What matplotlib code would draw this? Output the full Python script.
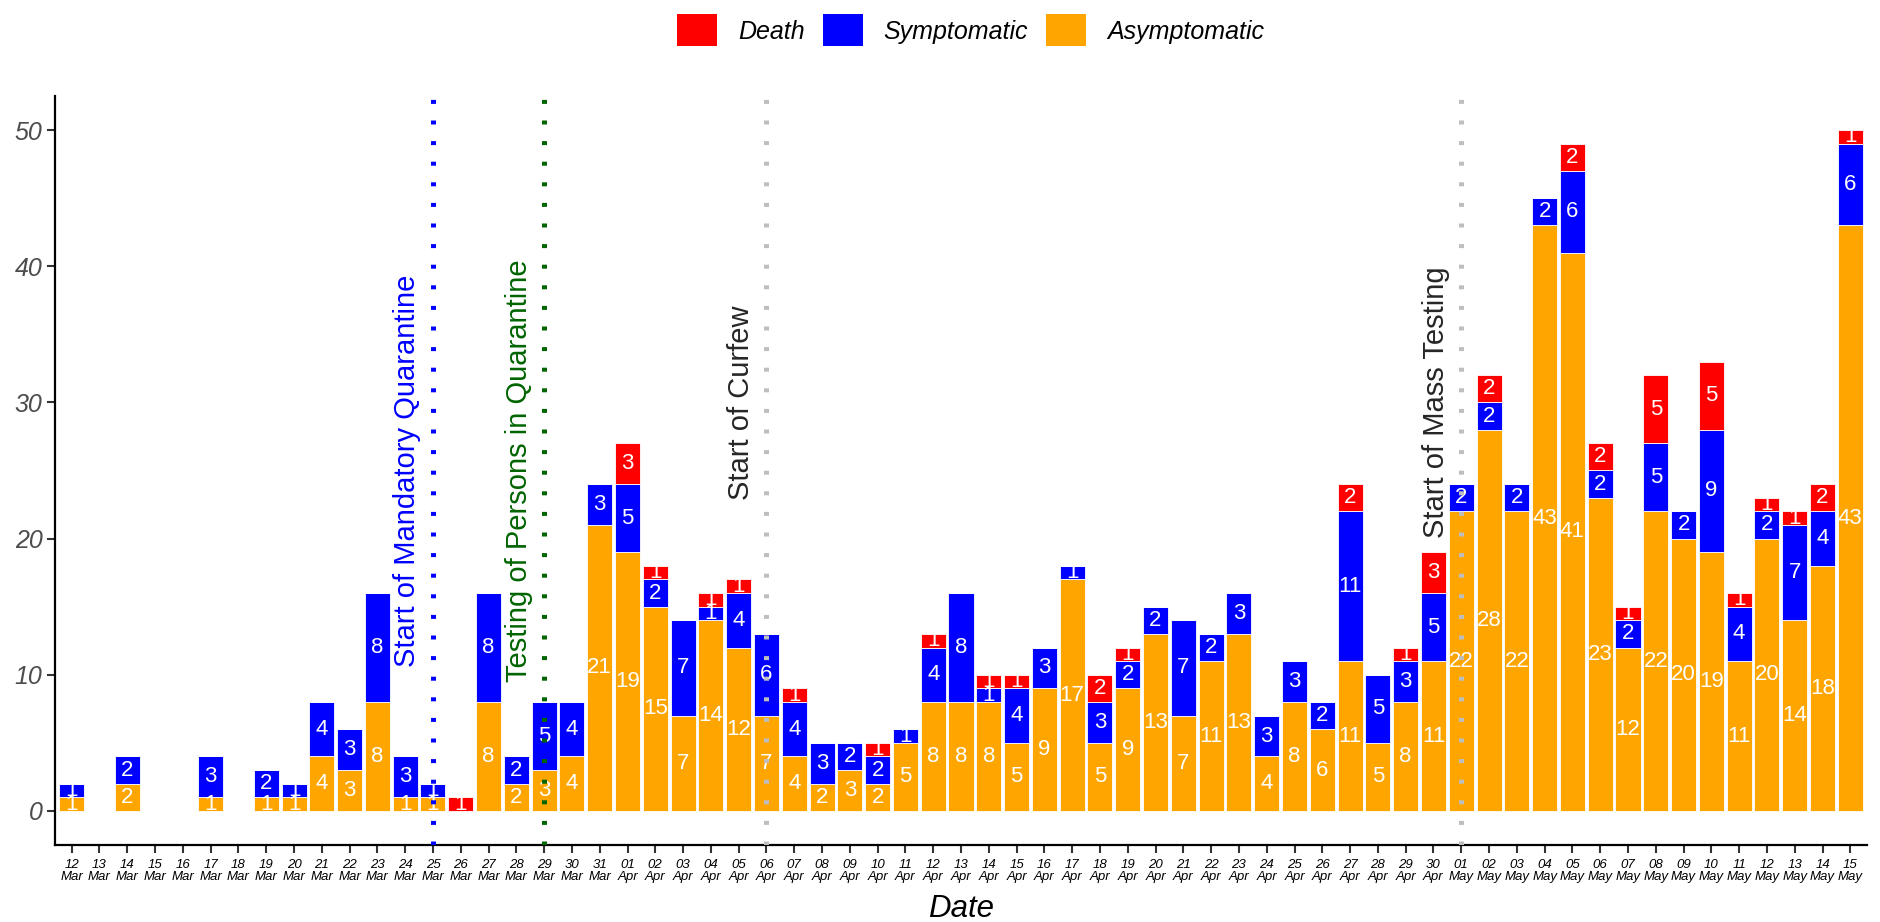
import numpy as np
import pandas as pd
import matplotlib
matplotlib.use("Agg")
import matplotlib.pyplot as plt
from matplotlib.patches import Patch

plt.rcParams['font.family'] = 'Liberation Sans'

################### DATA

dates = pd.date_range("2020-03-12", "2020-05-15", freq="D")

asymptomatic = [1, 0, 2, 0, 0, 1, 0, 1, 1, 4, 3, 8, 1, 1, 0, 8, 2, 3, 4, 21,   # 12-31 Mar
                19, 15, 7, 14, 12, 7, 4, 2, 3, 2, 5, 8, 8, 8, 5, 9, 17, 5, 9, 13,  # 01-20 Apr
                7, 11, 13, 4, 8, 6, 11, 5, 8, 11,                                  # 21-30 Apr
                22, 28, 22, 43, 41, 23, 12, 22, 20, 19, 11, 20, 14, 18, 43]        # 01-15 May
symptomatic = [1, 0, 2, 0, 0, 3, 0, 2, 1, 4, 3, 8, 3, 1, 0, 8, 2, 5, 4, 3,
               5, 2, 7, 1, 4, 6, 4, 3, 2, 2, 1, 4, 8, 1, 4, 3, 1, 3, 2, 2,
               7, 2, 3, 3, 3, 2, 11, 5, 3, 5,
               2, 2, 2, 2, 6, 2, 2, 5, 2, 9, 4, 2, 7, 4, 6]
death = [0, 0, 0, 0, 0, 0, 0, 0, 0, 0, 0, 0, 0, 0, 1, 0, 0, 0, 0, 0,
         3, 1, 0, 1, 1, 0, 1, 0, 0, 1, 0, 1, 0, 1, 1, 0, 0, 2, 1, 0,
         0, 0, 0, 0, 0, 0, 2, 0, 1, 3,
         0, 2, 0, 0, 2, 2, 1, 5, 0, 5, 1, 1, 1, 2, 1]

# events: date, label, colour of the line, colour of the text, y of the text
event_dates = ["2020-03-25", "2020-03-29", "2020-04-06", "2020-05-01"]
event_labels = ["Start of Mandatory Quarantine", "Testing of Persons in Quarantine",
                "Start of Curfew", "Start of Mass Testing"]
event_line_colors = ["blue", "#006400", "#BEBEBE", "#BEBEBE"]
event_text_colors = ["blue", "#006400", "#262626", "#262626"]
event_text_y = [25, 25, 30, 30]

series_names = ["Death", "Symptomatic", "Asymptomatic"]
series_colors = {"Death": "#FF0000", "Symptomatic": "#0000FF", "Asymptomatic": "#FFA500"}

################### PLOT

fig = plt.figure(figsize=(18.81, 9.22), dpi=100)
ax = fig.add_axes([0.02924, 0.0835, 0.96332, 0.8124])

x = np.arange(len(dates))
A = np.array(asymptomatic)
S = np.array(symptomatic)
D = np.array(death)

stack = [("Asymptomatic", A, np.zeros_like(A)),
         ("Symptomatic", S, A),
         ("Death", D, A + S)]

for name, vals, bottom in stack:
    ax.bar(x, vals, bottom=bottom, width=0.9, color=series_colors[name],
           edgecolor="white", linewidth=0.6, zorder=2)
    for xi, v, b in zip(x, vals, bottom):
        if v > 0:
            ax.text(xi, b + v / 2, str(v), ha="center", va="center",
                    color="white", fontsize=16, zorder=3)

# event lines + labels
for d, lab, lc, tc, ty in zip(event_dates, event_labels, event_line_colors,
                              event_text_colors, event_text_y):
    xi = dates.get_loc(pd.Timestamp(d))
    ax.axvline(xi, color=lc, lw=3.6, linestyle=(0, (0.8, 3.32)),
               dash_capstyle="butt", zorder=4)
    ax.text(xi - 0.92, ty, lab, rotation=90, ha="center", va="center",
            color=tc, fontsize=21, zorder=5)

ax.set_xlim(-0.6, len(dates) - 0.4)
ax.set_ylim(-2.5, 52.5)

ax.set_xticks(x)
ax.set_xticklabels([d.strftime("%d\n%b") for d in dates], fontsize=9.5,
                   style="italic", color="black", linespacing=1.05)
ax.set_yticks(np.arange(0, 51, 10))
ax.set_yticklabels([str(v) for v in range(0, 51, 10)], fontsize=18,
                   style="italic", color="#4D4D4D")
ax.tick_params(axis="x", length=6, width=1.5, color="#333333", pad=4)
ax.tick_params(axis="y", length=6, width=1.5, color="#333333", pad=3)

for s in ["top", "right"]:
    ax.spines[s].set_visible(False)
for s in ["left", "bottom"]:
    ax.spines[s].set_linewidth(1.6)
    ax.spines[s].set_color("black")

ax.set_xlabel("Date", fontsize=22.5, style="italic", color="black")
ax.xaxis.set_label_coords(0.5, -0.0961)
ax.xaxis.label.set_va("baseline")

handles = [Patch(facecolor=series_colors[n], edgecolor="none", label=n) for n in series_names]
fig.legend(handles=handles, loc="center", bbox_to_anchor=(0.516, 0.967), ncol=3,
           frameon=False, prop={"size": 18, "style": "italic"},
           handlelength=1.6, handleheight=1.6, handletextpad=0.84, columnspacing=0.72)

fig.savefig("out.png", dpi=100)
